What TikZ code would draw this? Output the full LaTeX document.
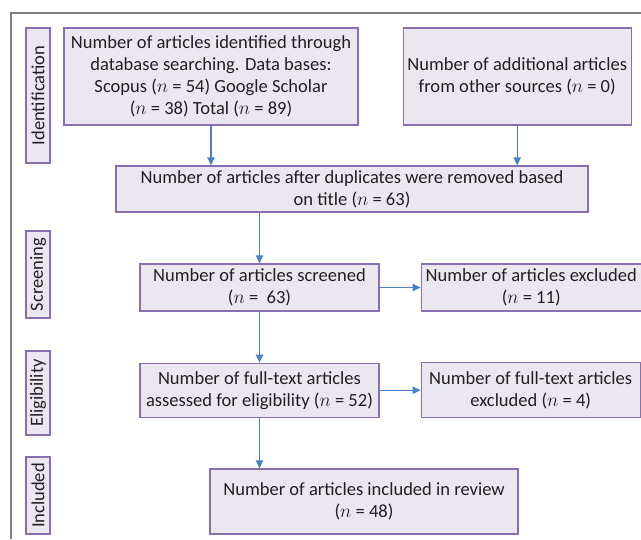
\documentclass[tikz,border=0pt]{standalone}
\usepackage{fontspec}
\setmainfont{Carlito}
\usetikzlibrary{arrows.meta,positioning}
\definecolor{boxline}{HTML}{8A6FB0}
\definecolor{boxfill}{HTML}{EAE7F1}
\definecolor{arrblue}{HTML}{4A80C4}
\definecolor{framegray}{HTML}{808080}
\definecolor{textdark}{HTML}{231F20}

\begin{document}
\begin{tikzpicture}[x=0.75pt, y=-0.75pt,
  every node/.style={font=\fontsize{13.9}{16.5}\selectfont, text=textdark},
  box/.style={rectangle, draw=boxline, fill=boxfill, line width=0.9pt, align=center, inner sep=2pt},
  stage/.style={box, rotate=90, minimum height=18pt},
  arr/.style={-{Triangle[length=6pt, width=5.5pt]}, line width=0.9pt, arrblue},
]
\useasboundingbox (0,0) rectangle (641,539);

% outer frame
\draw[framegray, line width=0.8pt] (11,539) -- (11,13) -- (641,13);

% stage labels on the left
\node[stage, minimum width=101.25pt] (sident) at (38,95.5) {Identification};
\node[stage, minimum width=65.25pt] (sscreen) at (38,274.5) {Screening};
\node[stage, minimum width=63pt] (selig) at (38,393) {Eligibility};
\node[stage, minimum width=57.75pt] (sincl) at (38,495.5) {Included};

% identification
\node[box, minimum width=220.5pt, minimum height=72.75pt] (ident) at (211,76.5) {
  Number of articles identified through\\
  database searching. Data bases:\\
  Scopus ($n$ = 54) Google Scholar\\
  ($n$ = 38) Total ($n$ = 89)
};
\node[box, minimum width=171pt, minimum height=72.75pt, right=33pt of ident] (other) {
  Number of additional articles\\
  from other sources ($n$ = 0)
};
\node[box, minimum width=354pt, minimum height=34.5pt] (dup) at (352,189) {
  Number of articles after duplicates were removed based\\
  on title ($n$ = 63)
};

% screening and eligibility
\node[box, minimum width=179.25pt, minimum height=35.25pt] (screen) at (259.5,287.5) {
  Number of articles screened\\
  ($n$ =\ \ 63)
};
\node[box, minimum width=165pt, minimum height=35.25pt, right=30.75pt of screen] (excl) {
  Number of articles excluded\\
  ($n$ = 11)
};
\node[box, minimum width=179.25pt, minimum height=40.5pt, below=38.25pt of screen] (full) {
  Number of full-text articles\\
  assessed for eligibility ($n$ = 52)
};
\node[box, minimum width=164.25pt, minimum height=41.25pt, right=30.75pt of full] (fullexcl) {
  Number of full-text articles\\
  excluded ($n$ = 4)
};

% included
\node[box, minimum width=231pt, minimum height=48.75pt] (incl) at (364,501.5) {
  Number of articles included in review\\
  ($n$ = 48)
};

% connectors
\draw[arr] (ident.south) -- (ident.south |- dup.north);
\draw[arr] (other.south) -- (other.south |- dup.north);
\draw[arr] (screen.north |- dup.south) -- (screen.north);
\draw[arr] (screen.east) -- (screen.east -| excl.west);
\draw[arr] (screen.south) -- (full.north);
\draw[arr] (full.east) -- (full.east -| fullexcl.west);
\draw[arr] (full.south) -- (full.south |- incl.north);

\end{tikzpicture}
\end{document}
